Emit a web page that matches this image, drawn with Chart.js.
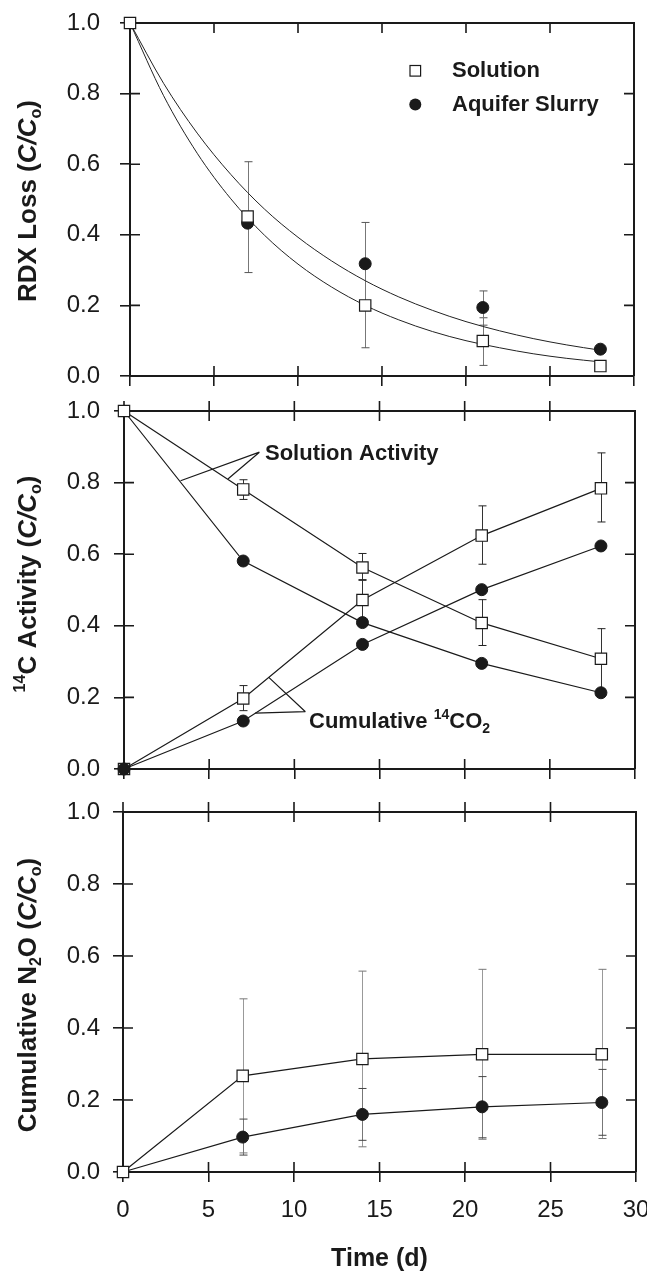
<!DOCTYPE html>
<html><head><meta charset="utf-8">
<script src="https://cdn.jsdelivr.net/npm/chart.js@4.4.1/dist/chart.umd.min.js"></script>
<style>
html,body{margin:0;padding:0;background:#fff;}
#wrap{position:relative;width:647px;height:1272px;overflow:hidden;}
canvas{position:absolute;left:0;top:0;}
</style></head>
<body><div id="wrap"><canvas id="c1" width="647" height="1272"></canvas><canvas id="c2" width="647" height="1272"></canvas><canvas id="c3" width="647" height="1272"></canvas></div>
<script>
// ---------- data ----------
const days = [0, 7, 14, 21, 28];
const xTicks = [0, 5, 10, 15, 20, 25, 30];
const xTickLabels = ['0', '5', '10', '15', '20', '25', '30'];
const yTicks = [0, 0.2, 0.4, 0.6, 0.8, 1.0];
const yTickLabels = ['0.0', '0.2', '0.4', '0.6', '0.8', '1.0'];

// Panel 1: RDX loss
const rdxSolution = [1.0, 0.452, 0.200, 0.099, 0.028];
const rdxSolutionLo = [null, 0.293, 0.080, 0.030, null];
const rdxSolutionHi = [null, 0.607, 0.435, 0.165, null];
const rdxSlurryDays = [7, 14, 21, 28];
const rdxSlurry = [0.433, 0.318, 0.194, 0.076];
const rdxSlurryLo = [null, null, 0.144, null];
const rdxSlurryHi = [null, null, 0.241, null];
const fitDays = [0, 2, 4, 6, 8, 10, 12, 14, 16, 18, 20, 22, 24, 26, 28];
const rdxSolutionFit = [1.000, 0.794, 0.631, 0.502, 0.399, 0.317, 0.252, 0.200, 0.159, 0.126, 0.100, 0.080, 0.063, 0.050, 0.040];
const rdxSlurryFit = [1.000, 0.829, 0.688, 0.571, 0.473, 0.393, 0.326, 0.270, 0.224, 0.186, 0.154, 0.128, 0.106, 0.088, 0.073];

// Panel 2: 14C activity
const actSolution = [1.0, 0.781, 0.563, 0.408, 0.308];
const actSolutionLo = [null, 0.753, 0.529, 0.345, 0.223];
const actSolutionHi = [null, 0.808, 0.602, 0.473, 0.392];
const actSlurry = [1.0, 0.581, 0.409, 0.295, 0.213];
const co2Solution = [0.0, 0.197, 0.472, 0.652, 0.784];
const co2SolutionLo = [null, 0.163, 0.417, 0.572, 0.690];
const co2SolutionHi = [null, 0.233, 0.527, 0.735, 0.883];
const co2Slurry = [0.0, 0.134, 0.348, 0.501, 0.623];

// Panel 3: cumulative N2O
const n2oSolution = [0.0, 0.267, 0.314, 0.327, 0.327];
const n2oSolutionLo = [null, 0.053, 0.070, 0.091, 0.093];
const n2oSolutionHi = [null, 0.481, 0.558, 0.563, 0.563];
const n2oSlurry = [0.0, 0.097, 0.160, 0.181, 0.193];
const n2oSlurryLo = [null, 0.047, 0.088, 0.095, 0.102];
const n2oSlurryHi = [null, 0.147, 0.232, 0.265, 0.285];

// ---------- helpers ----------
const INK = '#1a1a1a';
const FAM = '"Liberation Sans", Arial, Helvetica, sans-serif';
const pts = (xs, ys) => xs.map((d, i) => ({x: d, y: ys[i]}));

function squareSet(data, opts) {
  return Object.assign({data, showLine: true, borderColor: INK, borderWidth: 1.2,
    pointStyle: 'rect', pointRadius: 8, pointBackgroundColor: '#fff', pointBorderColor: INK,
    pointBorderWidth: 1.2, clip: false}, opts || {});
}
function circleSet(data, opts) {
  return Object.assign({data, showLine: true, borderColor: INK, borderWidth: 1.2,
    pointStyle: 'circle', pointRadius: 6, pointBackgroundColor: INK, pointBorderColor: INK,
    pointBorderWidth: 1, clip: false}, opts || {});
}

function framePlugin(topCross) {
  return {id: 'frame', beforeDatasetsDraw(chart) {
    const {ctx, chartArea: a, scales: {x, y}} = chart;
    ctx.save();
    ctx.strokeStyle = INK; ctx.lineWidth = 2;
    ctx.beginPath(); ctx.moveTo(a.left, a.top); ctx.lineTo(a.right, a.top); ctx.lineTo(a.right, a.bottom); ctx.stroke();
    ctx.lineWidth = 1.6;
    ctx.beginPath();
    xTicks.forEach(v => {
      const px = x.getPixelForValue(v);
      if (v > 0 && v < 30) { ctx.moveTo(px, a.bottom); ctx.lineTo(px, a.bottom - 10); }
      if (v < 30) {
        if (v > 0) { ctx.moveTo(px, a.top + 10); ctx.lineTo(px, a.top - (topCross ? 10 : 0)); }
        else if (topCross) { ctx.moveTo(px, a.top); ctx.lineTo(px, a.top - 10); }
      }
    });
    yTicks.forEach(v => {
      const py = y.getPixelForValue(v);
      if (v > 0 && v < 1) {
        ctx.moveTo(a.left, py); ctx.lineTo(a.left + 10, py);
        ctx.moveTo(a.right, py); ctx.lineTo(a.right - 10, py);
      }
    });
    ctx.stroke();
    ctx.restore();
  }};
}

function errPlugin(items) {
  return {id: 'err', beforeDatasetsDraw(chart) {
    const {ctx, scales: {x, y}} = chart;
    ctx.save();
    items.forEach(it => {
      it.xs.forEach((d, i) => {
        const lo = it.lo[i], hi = it.hi[i];
        if (lo == null || hi == null) return;
        const px = Math.round(x.getPixelForValue(d)) + 0.5;
        const p1 = y.getPixelForValue(lo), p2 = y.getPixelForValue(hi);
        ctx.lineWidth = 1;
        ctx.strokeStyle = it.line;
        ctx.beginPath(); ctx.moveTo(px, p1); ctx.lineTo(px, p2); ctx.stroke();
        ctx.strokeStyle = it.cap;
        ctx.beginPath();
        ctx.moveTo(px - 4, p1); ctx.lineTo(px + 4, p1);
        ctx.moveTo(px - 4, p2); ctx.lineTo(px + 4, p2);
        ctx.stroke();
      });
    });
    ctx.restore();
  }};
}

function fontStr(s) {
  return (s.i ? 'italic ' : '') + (s.b === false ? '' : 'bold ') + s.size + 'px ' + FAM;
}
function drawRich(ctx, segs, x, y, rot) {
  ctx.save();
  ctx.translate(x, y); ctx.rotate(rot);
  let total = 0;
  segs.forEach(s => { ctx.font = fontStr(s); s.w = ctx.measureText(s.t).width; total += s.w; });
  let cx = rot ? -total / 2 : 0;
  ctx.fillStyle = INK; ctx.textBaseline = 'alphabetic'; ctx.textAlign = 'left';
  segs.forEach(s => { ctx.font = fontStr(s); ctx.fillText(s.t, cx, s.dy || 0); cx += s.w; });
  ctx.restore();
}

function yTitlePlugin(segs, cx, cy) {
  return {id: 'ytitle', afterDraw(chart) { drawRich(chart.ctx, segs, cx, cy, -Math.PI / 2); }};
}

const F = 26, S = 16;
function makeOptions(L, R, T, B, xAxisH, yPad, showX) {
  return {
    responsive: false, animation: false, events: [],
    layout: {padding: {left: 0, top: T, right: 647 - R, bottom: 1272 - B - xAxisH}},
    plugins: {legend: {display: false}, tooltip: {enabled: false}},
    scales: {
      x: {type: 'linear', min: 0, max: 30,
        afterBuildTicks: s => { s.ticks = xTicks.map(v => ({value: v})); },
        ticks: {display: showX, autoSkip: false, maxRotation: 0, color: INK, padding: 14,
          font: {family: FAM, size: 24}, callback: (v, i) => xTickLabels[i]},
        grid: {display: true, drawOnChartArea: false, drawTicks: true, tickLength: 10, color: INK, lineWidth: 1.6},
        border: {display: true, color: INK, width: 2},
        title: {display: showX, text: 'Time (d)', color: INK, padding: {top: 0, bottom: 0},
          font: {family: FAM, size: 25, weight: 'bold', lineHeight: 1.0}},
        afterFit: s => { s.height = xAxisH; s.paddingLeft = 0; s.paddingRight = 0; }
      },
      y: {type: 'linear', min: 0, max: 1,
        afterBuildTicks: s => { s.ticks = yTicks.map(v => ({value: v})); },
        ticks: {color: INK, padding: yPad, font: {family: FAM, size: 24}, callback: (v, i) => yTickLabels[i]},
        grid: {display: true, drawOnChartArea: false, drawTicks: true, tickLength: 10, color: INK, lineWidth: 1.6},
        border: {display: true, color: INK, width: 2},
        afterFit: s => { s.width = L; s.paddingTop = 0; s.paddingBottom = 0; }
      }
    }
  };
}

// ---------- Panel 1 ----------
const legendPlugin = {id: 'leg', afterDatasetsDraw(chart) {
  const ctx = chart.ctx;
  ctx.save();
  ctx.lineWidth = 1.2; ctx.strokeStyle = INK; ctx.fillStyle = '#fff';
  ctx.fillRect(410, 65.5, 10.6, 10.6); ctx.strokeRect(410, 65.5, 10.6, 10.6);
  ctx.fillStyle = INK;
  ctx.beginPath(); ctx.arc(415.3, 104.5, 6, 0, Math.PI * 2); ctx.fill();
  ctx.font = 'bold 22px ' + FAM; ctx.textBaseline = 'middle'; ctx.textAlign = 'left';
  ctx.fillText('Solution', 452, 71);
  ctx.fillText('Aquifer Slurry', 452, 105);
  ctx.restore();
}};

new Chart(document.getElementById('c1'), {
  type: 'line',
  data: {datasets: [
    squareSet(pts(days, rdxSolution), {showLine: false}),
    circleSet(pts(rdxSlurryDays, rdxSlurry), {showLine: false}),
    {data: pts(fitDays, rdxSolutionFit), borderColor: '#222', borderWidth: 1, pointRadius: 0, cubicInterpolationMode: 'monotone', clip: false},
    {data: pts(fitDays, rdxSlurryFit), borderColor: '#222', borderWidth: 1, pointRadius: 0, cubicInterpolationMode: 'monotone', clip: false}
  ]},
  options: makeOptions(130, 634, 23, 376, 10, 20, false),
  plugins: [framePlugin(false),
    errPlugin([
      {xs: days, lo: rdxSolutionLo, hi: rdxSolutionHi, line: '#777', cap: '#555'},
      {xs: rdxSlurryDays, lo: rdxSlurryLo, hi: rdxSlurryHi, line: '#777', cap: '#555'}
    ]),
    legendPlugin,
    yTitlePlugin([
      {t: 'RDX Loss (', size: F}, {t: 'C/C', size: F, i: true}, {t: 'o', size: S, dy: 5}, {t: ')', size: F}
    ], 36, 201)]
});

// ---------- Panel 2 ----------
const annotPlugin = {id: 'annot', afterDatasetsDraw(chart) {
  const {ctx, scales: {x, y}} = chart;
  const P = (a, b) => [x.getPixelForValue(a), y.getPixelForValue(b)];
  ctx.save();
  ctx.strokeStyle = INK; ctx.lineWidth = 1.2;
  const seg = (p, q) => { ctx.moveTo(p[0], p[1]); ctx.lineTo(q[0], q[1]); };
  ctx.beginPath();
  const a0 = P(7.95, 0.885);
  seg(a0, P(3.32, 0.805)); seg(a0, P(6.1, 0.810));
  const b0 = P(10.65, 0.160);
  seg(b0, P(8.5, 0.256)); seg(b0, P(7.7, 0.156));
  ctx.stroke();
  ctx.restore();
  drawRich(ctx, [{t: 'Solution Activity', size: 22}], 265, 460, 0);
  drawRich(ctx, [{t: 'Cumulative ', size: 22}, {t: '14', size: 14, dy: -9}, {t: 'CO', size: 22}, {t: '2', size: 14, dy: 5}], 309, 728, 0);
}};

new Chart(document.getElementById('c2'), {
  type: 'line',
  data: {datasets: [
    squareSet(pts(days, actSolution)),
    circleSet(pts(days, co2Slurry)),
    circleSet(pts(days, actSlurry), {pointRadius: [0, 6, 6, 6, 6]}),
    squareSet(pts(days, co2Solution))
  ]},
  options: makeOptions(124, 635, 411, 769, 10, 14, false),
  plugins: [framePlugin(true),
    errPlugin([
      {xs: days, lo: actSolutionLo, hi: actSolutionHi, line: '#333', cap: '#222'},
      {xs: days, lo: co2SolutionLo, hi: co2SolutionHi, line: '#333', cap: '#222'}
    ]),
    annotPlugin,
    yTitlePlugin([
      {t: '14', size: S, dy: -11}, {t: 'C Activity (', size: F}, {t: 'C/C', size: F, i: true}, {t: 'o', size: S, dy: 5}, {t: ')', size: F}
    ], 36, 584)]
});

// ---------- Panel 3 ----------
new Chart(document.getElementById('c3'), {
  type: 'line',
  data: {datasets: [
    squareSet(pts(days, n2oSolution)),
    circleSet(pts(days, n2oSlurry), {pointRadius: [0, 6, 6, 6, 6]})
  ]},
  options: makeOptions(123, 636, 812, 1172, 100, 13, true),
  plugins: [framePlugin(true),
    errPlugin([
      {xs: days, lo: n2oSolutionLo, hi: n2oSolutionHi, line: '#999', cap: '#777'},
      {xs: days, lo: n2oSlurryLo, hi: n2oSlurryHi, line: '#777', cap: '#444'}
    ]),
    yTitlePlugin([
      {t: 'Cumulative N', size: F}, {t: '2', size: S, dy: 5}, {t: 'O (', size: F}, {t: 'C/C', size: F, i: true}, {t: 'o', size: S, dy: 5}, {t: ')', size: F}
    ], 36, 995)]
});
</script>
</body></html>
